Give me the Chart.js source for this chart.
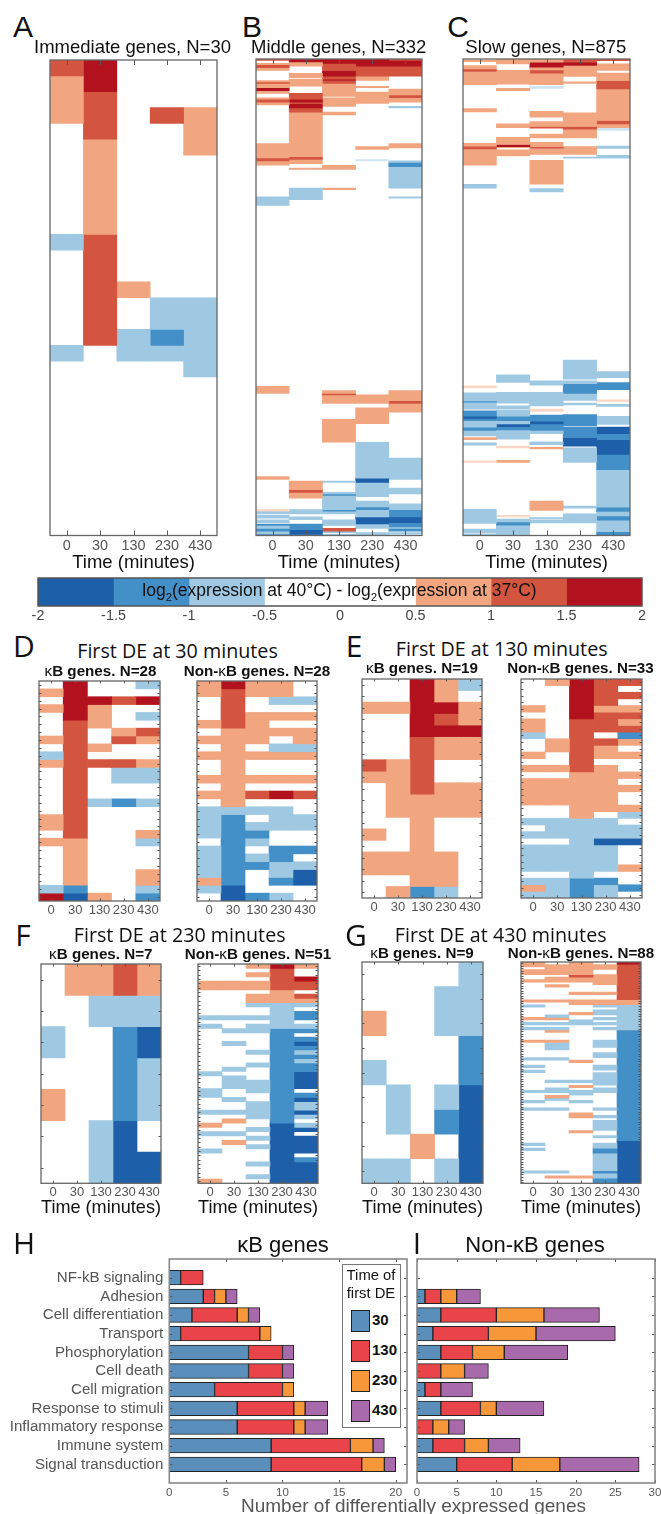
<!DOCTYPE html>
<html><head><meta charset="utf-8">
<script src="https://cdn.jsdelivr.net/npm/chart.js@4/dist/chart.umd.min.js"></script>
<style>
html,body{margin:0;padding:0;background:#fff;}
#page{position:relative;width:661px;height:1514px;overflow:hidden;font-family:"Liberation Sans",Arial,sans-serif;color:#111;}
canvas{position:absolute;}
.t{position:absolute;white-space:nowrap;transform:translate(-50%,-50%);line-height:1;z-index:5;}
.k{font-weight:400;}
sub{font-size:.65em;line-height:0;}
</style></head><body><div id="page"></div>
<script>
const timeLabels=["0","30","130","230","430"];
const heatColors={"-3":"#1d5fa8","-2":"#438fc7","-1":"#9fc9e3","-0.5":"#cfe4f1","0":"#ffffff","0.5":"#f9d7c4","1":"#f1a680","2":"#d4553f","3":"#b1121e"};
// Levels: -3..3 = expression-change bins (half levels = faint thin stripes). Row tables: one row per gene, five time points.
const panelA=[[2,3,0,0,0],[1,3,0,0,0],[1,2,0,0,0],[1,2,0,2,1],[0,2,0,0,1],[0,1,0,0,1],[0,1,0,0,0],[0,1,0,0,0],[0,1,0,0,0],[0,1,0,0,0],[0,1,0,0,0],[-1,2,0,0,0],[0,2,0,0,0],[0,2,0,0,0],[0,2,1,0,0],[0,2,0,-1,-1],[0,2,0,-1,-1],[0,2,-1,-2,-1],[-1,0,-1,-1,-1],[0,0,0,0,-1],[0,0,0,0,0],[0,0,0,0,0],[0,0,0,0,0],[0,0,0,0,0],[0,0,0,0,0],[0,0,0,0,0],[0,0,0,0,0],[0,0,0,0,0],[0,0,0,0,0],[0,0,0,0,0]];
const panelDk=[[0,3,0,0,-1],[1,3,0,0,0],[0,3,3,2,3],[1,3,1,0,0],[0,3,1,0,-1],[0,2,1,0,0],[0,2,0,1,2],[1,2,0,2,1],[0,2,1,0,0],[-1,2,0,0,0],[1,2,2,2,1],[0,2,0,-1,-1],[0,2,0,-1,-1],[0,2,0,0,0],[0,2,0,0,0],[0,2,-1,-2,-1],[0,2,0,0,0],[1,2,0,0,0],[1,2,0,0,0],[0,2,0,0,1],[1,1,0,0,-1],[0,1,0,0,0],[0,1,0,0,0],[0,1,0,0,0],[0,1,0,0,1],[0,1,0,0,1],[-1,-2,0,0,-1],[3,-3,1,0,-2]];
const panelDn=[[1,3,1,1,0],[1,2,1,1,0],[0,2,0,-1,-1],[0,2,0,0,0],[0,2,1,1,1],[1,2,1,0,0],[0,1,1,1,1],[1,1,1,0,1],[0,1,0,-1,-1],[1,1,1,1,1],[0,1,0,0,0],[0,1,0,0,0],[1,1,1,1,1],[0,1,0,0,0],[1,1,2,3,2],[0,1,0,0,0],[-1,-1,-1,-1,0],[-1,-2,0,-1,-1],[-1,-2,-1,-1,-1],[-1,-2,-2,0,0],[0,-2,-1,0,0],[-1,-2,0,-2,-2],[-1,-2,-1,-2,0],[-1,-2,-2,-1,-1],[-1,-2,0,-1,-3],[1,-2,0,-2,-3],[-1,-3,0,0,0],[0,-3,-2,-1,0]];
const panelEk=[[0,0,3,1,-1],[0,0,3,1,0],[1,1,3,3,1],[0,0,3,2,1],[0,0,3,3,3],[0,0,2,1,1],[0,0,2,1,1],[2,1,2,0,0],[1,1,2,0,0],[0,1,2,1,1],[0,1,1,1,1],[0,1,1,1,1],[0,0,1,0,0],[1,0,1,0,0],[0,0,1,0,0],[1,1,1,1,0],[1,1,1,1,0],[0,0,1,1,0],[0,1,-2,-1,0]];
const panelEn=[[0,1,3,2,2],[0,0,3,2,0],[0,0,3,2,2],[0,0,3,2,0],[1,0,3,1,1],[0,0,3,2,2],[1,0,2,2,1],[1,0,2,2,2],[-1,0,2,0,-2],[0,1,2,2,1],[0,1,2,1,0],[1,0,2,1,1],[0,0,2,0,0],[1,1,2,1,0],[0,0,1,1,1],[1,1,1,1,0],[1,1,1,1,1],[1,1,1,1,0],[1,1,1,1,0],[0,0,1,1,1],[0,0,1,0,-1],[-1,-1,-1,-1,0],[0,-1,-1,-1,-1],[-1,-1,-1,-1,-1],[0,0,-1,-3,-3],[-1,-1,-1,-1,0],[-1,-1,-1,-1,0],[-1,-1,-1,-1,0],[-1,-1,-1,-1,1],[0,0,-1,0,0],[-1,-1,-2,-2,0],[1,-1,-2,-1,-2],[-1,-1,-2,-1,0]];
const panelFk=[[0,1,1,2,1],[0,0,-1,-1,-1],[-1,0,0,-2,-3],[0,0,0,-2,-1],[1,0,0,-2,-1],[0,0,-1,-3,0],[0,0,-1,-3,-3]];
const panelGk=[[0,0,0,0,-1],[0,0,0,-1,-1],[1,0,0,-1,-1],[0,0,0,0,-2],[-1,0,0,0,-2],[0,-1,0,-1,-3],[0,-1,0,-2,-3],[0,0,1,0,-3],[-1,-1,0,-1,-3]];
// Run tables: per time point, [first gene, end gene, level].
const panelB=[
[[0,1,2],[3,4,1],[4,6,2],[6,8,1],[15,16,1],[16,17,2],[17,20,1],[20,22,3],[22,24,1],[27,28,1],[28,30,2],[30,32,1],[59,69,1],[69,71,2],[71,74,1],[96,102,-1],[228,233,1],[291,293,1],[314,315,0.5],[315,317,-1],[318,320,-1],[321,323,-1],[324,325,-2],[325,327,-1],[327,329,-2],[329,331,-1],[331,332,-3]],
[[0,2,3],[2,5,1],[10,13,1],[14,19,1],[24,28,2],[28,30,3],[30,31,2],[31,34,3],[34,37,2],[37,68,1],[68,70,2],[70,73,1],[76,77,1],[90,98,-1],[294,300,1],[300,302,2],[302,306,1],[314,317,-1],[319,321,-1],[324,328,-2],[328,331,-3],[331,332,-2]],
[[0,3,3],[3,8,2],[8,12,3],[12,14,2],[14,15,3],[15,17,2],[17,26,1],[27,33,1],[37,39,1],[74,77,1],[90,91,1],[231,233,1],[233,234,2],[234,240,1],[251,267,1],[294,295,-1],[302,303,-1],[303,304,-2],[304,314,-1],[314,315,-2],[315,317,-1],[321,325,-1],[327,329,2],[329,330,-1],[331,332,-1]],
[[0,5,3],[5,12,2],[12,15,1],[19,20,1],[23,31,1],[61,63,1],[70,71,-0.5],[234,240,1],[243,254,1],[267,292,-1],[292,295,-3],[295,305,-1],[308,312,-1],[312,314,-2],[314,319,-1],[319,324,-3],[324,327,-1],[330,332,-1]],
[[0,1,2],[1,5,3],[5,12,2],[21,25,1],[25,27,2],[27,30,1],[33,34,-1],[59,62,1],[71,72,-1],[72,75,-2],[75,90,-1],[96,97,-1],[231,238,1],[238,240,2],[240,246,1],[278,293,-1],[299,303,-1],[310,314,-1],[314,319,-2],[319,323,-3],[323,326,-2],[326,327,-1],[327,329,-2],[330,331,-1]]];
const panelC=[
[[2,5,1],[12,18,1],[18,23,2],[23,47,1],[91,97,1],[155,160,1],[160,165,2],[165,195,1],[230,237,-1],[600,604,0.5],[613,628,-1],[628,630,-2],[630,643,-1],[646,656,-2],[656,660,-3],[660,664,-2],[664,676,-1],[676,682,-2],[682,692,-1],[695,699,1],[705,709,-1],[738,741,0.5],[827,853,-1],[863,870,-1],[872,875,-1]],
[[0,9,1],[21,46,1],[54,58,1],[119,126,1],[144,157,1],[157,161,3],[161,163,1],[167,178,1],[580,594,-1],[612,632,-1],[637,643,-1],[645,656,-1],[656,664,-2],[664,670,-1],[671,675,-3],[675,681,-2],[681,698,-1],[711,714,0.5],[737,741,1],[838,841,0.5],[845,850,-1],[850,856,-2],[856,875,-1]],
[[0,6,1],[6,15,3],[15,20,1],[20,26,2],[26,47,1],[50,54,-0.5],[96,107,1],[115,124,1],[124,127,2],[138,145,1],[153,161,1],[161,164,2],[166,175,1],[186,230,1],[238,244,-1],[591,599,-1],[612,637,-1],[643,647,0.5],[654,665,-2],[665,670,-3],[670,682,-2],[682,688,-1],[703,708,-1],[713,716,1],[812,829,1],[842,845,-1],[847,852,-1]],
[[0,6,2],[6,12,3],[12,32,1],[42,45,1],[99,124,1],[124,129,2],[129,145,1],[161,175,1],[180,182,-1],[553,588,-1],[591,596,-1],[596,614,-2],[614,627,-1],[632,635,-1],[653,674,-2],[676,695,-2],[695,711,-3],[714,741,-1],[821,825,-1],[835,852,-1]],
[[0,3,2],[9,21,1],[26,40,1],[40,55,2],[55,113,1],[113,119,2],[119,126,1],[127,131,-0.5],[160,164,-1],[177,182,-1],[574,585,-1],[594,607,-2],[626,629,0.5],[634,638,-1],[656,671,-1],[676,688,-3],[688,699,-2],[699,726,-3],[726,754,-2],[754,823,-1],[823,831,-2],[831,839,-1],[839,847,-2],[847,868,-1],[868,875,-2]]];
const panelFn=[
[[4,6,1],[12,13,-1],[14,15,-1],[25,26,-1],[29,31,-1],[34,35,-1],[37,38,1],[39,40,-1],[43,44,-1],[50,51,1]],
[[4,6,1],[12,13,-1],[15,16,-1],[18,19,-1],[24,25,-1],[26,29,-1],[31,32,-1],[34,35,-1],[36,37,1],[39,40,-1],[41,42,1]],
[[0,1,1],[2,3,1],[4,6,1],[7,9,1],[9,10,-1],[12,13,-1],[14,16,-1],[20,21,-1],[23,24,-1],[27,30,-1],[32,36,-1],[38,39,-1],[40,41,-1],[42,43,-1],[46,47,-1],[49,50,-1]],
[[0,1,3],[1,6,2],[6,9,1],[9,15,-1],[15,37,-2],[37,51,-3]],
[[0,1,1],[3,4,3],[4,6,2],[7,8,2],[8,9,1],[9,10,-1],[11,13,-2],[14,15,-1],[15,16,-2],[17,18,-2],[18,19,-3],[19,20,-2],[20,21,-1],[21,22,-2],[22,23,-1],[23,25,-2],[25,29,-3],[30,31,-2],[31,32,-3],[32,34,-1],[34,35,-3],[35,36,-1],[37,38,-1],[38,39,-3],[40,44,-3],[45,46,-2],[46,51,-3]]];
const panelGn=[
[[0,2,1],[3,5,1],[7,8,1],[15,16,1],[17,18,-1],[22,23,1],[24,25,-1],[26,27,-1],[31,32,1],[38,39,-1],[41,42,-1],[43,44,-1],[51,52,-1],[55,56,-1],[58,59,-1],[72,73,-1],[74,75,-1],[83,84,-1]],
[[1,3,1],[3,5,1],[6,8,1],[9,10,1],[15,16,1],[21,22,-1],[22,23,1],[24,25,-1],[26,27,-1],[27,28,1],[31,32,1],[32,35,-1],[38,39,-1],[47,48,-1],[50,52,-1],[53,54,1],[54,55,-1],[58,59,-1],[83,84,-1],[85,86,1]],
[[0,5,1],[5,6,2],[6,8,1],[12,13,1],[15,17,1],[20,21,1],[23,25,-1],[39,40,1],[47,48,-1],[49,50,1],[51,53,-1],[55,56,-1],[60,62,1],[67,68,1],[85,86,1]],
[[1,3,1],[5,9,1],[12,13,1],[15,17,1],[17,18,-1],[19,21,-1],[22,23,-1],[24,25,-1],[26,27,-1],[31,34,-1],[36,38,-1],[41,43,-1],[44,49,-1],[50,52,-1],[58,59,-1],[61,62,-1],[63,67,-1],[69,70,-1],[72,74,-1],[74,76,-2],[76,83,-1],[83,84,-2],[84,86,-1],[86,88,-2]],
[[0,1,3],[1,15,2],[15,17,1],[17,27,-1],[27,71,-2],[71,88,-3]]];
const colorbarEdges=[-2,-1.5,-1,-0.5,0.5,1,1.5,2];
const colorbarLevels=[-3,-2,-1,0,1,2,3];
const categories=["NF-kB signaling","Adhesion","Cell differentiation","Transport","Phosphorylation","Cell death","Cell migration","Response to stimuli","Inflammatory response","Immune system","Signal transduction"];
const firstDE=["30","130","230","430"];
const deColors=["#5a8fbc","#e9444a","#f6973a","#a96aab"];
const kbCounts=[[1,3,2,1,7,7,4,6,6,9,9],[2,1,4,7,3,3,6,5,5,7,8],[0,1,1,1,0,0,1,1,1,2,2],[0,1,1,0,1,1,0,2,2,1,1]];
const nonKbCounts=[[0,1,3,2,3,0,1,3,0,2,5],[0,2,7,7,4,3,2,5,2,4,7],[0,2,6,6,4,3,0,2,2,3,6],[0,3,7,10,8,3,4,6,2,4,10]];

Chart.defaults.font.family='"Liberation Sans",Arial,sans-serif';
Chart.defaults.animation=false;
Chart.defaults.responsive=false;
Chart.defaults.plugins.legend.display=false;
Chart.defaults.plugins.tooltip.enabled=false;
Chart.defaults.events=[];
const page=document.getElementById('page');

function txt(html,x,y,size,opt){opt=opt||{};const d=document.createElement('div');d.className='t';d.innerHTML=html;
 d.style.cssText=`left:${x}px;top:${y}px;font-size:${size}px;font-family:${opt.font||'"Liberation Sans",Arial,sans-serif'};color:${opt.color||'#111'};font-weight:${opt.weight||400};`;page.appendChild(d);}
function canvasAt(x,y,w,h){const c=document.createElement('canvas');c.width=Math.round(w);c.height=Math.round(h);c.style.left=x+'px';c.style.top=y+'px';page.appendChild(c);return c;}
function rowsToRuns(rows){return timeLabels.map((_,c)=>{const out=[];rows.forEach((r,i)=>{const v=r[c];if(!v)return;const l=out[out.length-1];if(l&&l[1]===i&&l[2]===v)l[1]=i+1;else out.push([i,i+1,v]);});return out;});}
function noPad(s){s.paddingTop=0;s.paddingBottom=0;s.paddingLeft=0;s.paddingRight=0;}

function framePlugin(o){return {id:'frame',afterDraw(ch){const a=ch.chartArea,ctx=ch.ctx;ctx.save();ctx.strokeStyle=o.tickColor||'#555';ctx.lineWidth=1;
 const sx=ch.scales.x,sy=ch.scales.y;
 if(o.xVals){o.xVals.forEach(v=>{const p=Math.round(sx.getPixelForValue(v))+.5;ctx.beginPath();ctx.moveTo(p,a.top);ctx.lineTo(p,a.top+o.len);ctx.moveTo(p,a.bottom);ctx.lineTo(p,a.bottom-o.len);ctx.stroke();});}
 if(o.yVals){o.yVals.forEach(v=>{const p=Math.round(sy.getPixelForValue(v))+.5;ctx.beginPath();ctx.moveTo(a.left,p);ctx.lineTo(a.left+o.len,p);ctx.moveTo(a.right,p);ctx.lineTo(a.right-o.len,p);ctx.stroke();});}
 ctx.strokeStyle=o.frameColor||'#666';ctx.lineWidth=o.frameWidth||1.3;ctx.strokeRect(a.left,a.top,a.right-a.left,a.bottom-a.top);ctx.restore();}};}

function heat(box,N,runs,o){const m=4,bottom=o.bottom;
 const [x0,y0,x1,y1]=box;
 const c=canvasAt(x0-m,y0-m,x1-x0+2*m,y1-y0+m+bottom);
 const datasets=[];runs.forEach((col,ci)=>col.forEach(r=>{const d=timeLabels.map(()=>null);d[ci]=[r[0],r[1]];datasets.push({data:d,backgroundColor:heatColors[r[2]],borderWidth:0,grouped:false,barPercentage:1,categoryPercentage:1});}));
 const rows=o.rowTicks?Array.from({length:N},(_,i)=>i+.5):null;
 new Chart(c,{type:'bar',data:{labels:timeLabels,datasets},
  options:{layout:{padding:{left:m,right:m,top:m,bottom:0}},
   scales:{x:{type:'category',offset:true,grid:{display:false,drawTicks:false},border:{display:false},
     ticks:{color:'#555',font:{size:o.tickSize},padding:o.tickPad,maxRotation:0,autoSkip:false},
     title:o.xTitle?{display:true,text:'Time (minutes)',color:'#111',font:{size:18.5},padding:{top:0,bottom:0}}:{display:false},
     afterFit:s=>{s.height=bottom;noPad(s);}},
    y:{type:'linear',display:false,reverse:true,min:0,max:N}}},
  plugins:[framePlugin({xVals:[0,1,2,3,4],yVals:rows,len:o.len||2.5})]});
}

// Panels A-C
txt('A',23,27,30);txt('B',252,27,30);txt('C',458,27,30);
txt('Immediate genes, N=30',132.5,47,18.5);txt('Middle genes, N=332',338.7,47,18.5);txt('Slow genes, N=875',545.8,47,18.5);
const top3={bottom:38.5,tickSize:14.4,tickPad:2,xTitle:true,len:5};
heat([49.5,60,216.5,535.5],30,rowsToRuns(panelA),top3);
heat([256.3,58.5,422.3,534.5],332,panelB,top3);
heat([463,58.5,629.7,534.5],875,panelC,top3);

// Colour bar
(function(){const m=14,x0=38.3,x1=642,y0=578.3,y1=606,bottom=18;
 const c=canvasAt(x0-m,y0-4,x1-x0+2*m,y1-y0+4+bottom);
 const datasets=colorbarLevels.map((l,i)=>({data:[[colorbarEdges[i],colorbarEdges[i+1]]],backgroundColor:heatColors[l],borderWidth:0,grouped:false,barPercentage:1,categoryPercentage:1}));
 new Chart(c,{type:'bar',data:{labels:['level'],datasets},options:{indexAxis:'y',layout:{padding:{left:m,right:m,top:4,bottom:0}},
  scales:{x:{type:'linear',min:-2,max:2,grid:{display:false,drawTicks:false},border:{display:false},ticks:{stepSize:.5,color:'#444',font:{size:14.4},padding:1.5,maxRotation:0,autoSkip:false,callback:v=>String(v)},afterFit:s=>{s.height=bottom;noPad(s);}},
   y:{type:'category',display:false}}},plugins:[framePlugin({len:0,frameColor:'#555',frameWidth:1.5})]});
 txt('log<sub>2</sub>(expression at 40°C) - log<sub>2</sub>(expression at 37°C)',339.5,591,17.5);
})();

// Panels D-G
const myriad='"Open Sans",sans-serif';
const sm={bottom:18,tickSize:13,tickPad:1.5,rowTicks:true};
const lg={bottom:35.7,tickSize:13,tickPad:1.5,rowTicks:true,xTitle:true};
txt('D',24,646,30,{font:myriad});txt('E',354,646,30,{font:myriad});txt('F',23,935,30,{font:myriad});txt('G',356,935,30,{font:myriad});
txt('First DE at 30 minutes',177.5,651,19.7,{font:myriad});txt('First DE at 130 minutes',501.7,649,19.7,{font:myriad});
txt('First DE at 230 minutes',179.7,935,19.7,{font:myriad});txt('First DE at 430 minutes',500.7,935,19.7,{font:myriad});
const sub=(n,x,y)=>txt(n,x,y,15.2,{weight:700});
sub('<span class="k">κ</span>B genes. N=28',100.5,670.7);sub('Non-<span class="k">κ</span>B genes. N=28',257,670.7);
sub('<span class="k">κ</span>B genes. N=19',422,667.7);sub('Non-<span class="k">κ</span>B genes. N=33',580.5,667.7);
sub('<span class="k">κ</span>B genes. N=7',100.8,954);sub('Non-<span class="k">κ</span>B genes. N=51',258,954);
sub('<span class="k">κ</span>B genes. N=9',422,953);sub('Non-<span class="k">κ</span>B genes. N=88',581,953);
heat([38.5,680.7,159.3,900.7],28,rowsToRuns(panelDk),sm);
heat([197.3,680.7,317.3,900.7],28,rowsToRuns(panelDn),sm);
heat([362.3,679,482.7,898.3],19,rowsToRuns(panelEk),sm);
heat([520.7,679,641.3,898.3],33,rowsToRuns(panelEn),sm);
heat([40.7,964.3,160.7,1183.3],7,rowsToRuns(panelFk),lg);
heat([198.3,964.3,318.3,1183.3],51,panelFn,lg);
heat([361.7,962.3,482.7,1183.3],9,rowsToRuns(panelGk),lg);
heat([520.7,962.3,641,1183.3],88,panelGn,lg);

// Panels H, I
function bars(box,counts,xMax,leftSpace,showLabels){const m=4,bottom=16;const [x0,y0,x1,y1]=box;
 const c=canvasAt(x0-leftSpace,y0-m,x1-x0+leftSpace+m+6,y1-y0+m+bottom);
 const labels=['',...categories,''];
 const datasets=counts.map((vals,i)=>({label:firstDE[i],data:[null,...vals,null],backgroundColor:deColors[i],borderColor:'#222',borderWidth:1,borderSkipped:false,barThickness:14.7,stack:'s'}));
 new Chart(c,{type:'bar',data:{labels,datasets},options:{indexAxis:'y',layout:{padding:{left:showLabels?0:leftSpace,right:m+6,top:m,bottom:0}},
  scales:{x:{type:'linear',stacked:true,min:0,max:xMax,grid:{display:false,drawTicks:false},border:{display:false},
     ticks:{stepSize:5,includeBounds:false,color:'#555',font:{size:11.5},padding:2.5,maxRotation:0,autoSkip:false},afterFit:s=>{s.height=bottom;noPad(s);}},
   y:{type:'category',stacked:true,offset:false,grid:{display:false,drawTicks:false,offset:false},border:{display:false},ticks:{display:showLabels,autoSkip:false,color:'#555',font:{size:15.1},padding:6},afterFit:s=>{s.width=showLabels?leftSpace:0;noPad(s);}}}},
  plugins:[framePlugin({xVals:Array.from({length:Math.floor(xMax/5)+1},(_,i)=>i*5),yVals:categories.map(n=>n),len:3,tickColor:'#555',frameColor:'#888',frameWidth:1.6})]});
}
txt('H',24,1243,30,{font:myriad});txt('I',417,1243,30,{font:myriad});
txt('κB genes',283,1245,22);txt('Non-κB genes',535,1245,22);
bars([169.3,1258.7,406.7,1482.7],kbCounts,21,169.3,true);
bars([417.3,1258.7,655.3,1482.7],nonKbCounts,30,6,false);
txt('Number of differentially expressed genes',413.5,1505,19,{color:'#555'});

// Legend
(function(){const L=document.createElement('div');L.style.cssText='position:absolute;left:341.7px;top:1264.3px;width:57px;height:161.5px;background:#fff;border:1.5px solid #777;z-index:4;';page.appendChild(L);
 txt('Time of',371,1275,14.8);txt('first DE',371,1293,14.8);
 const ys=[1320,1350,1380,1410];
 firstDE.forEach((l,i)=>{const s=document.createElement('div');s.style.cssText=`position:absolute;left:351px;top:${ys[i]-10.5}px;width:17px;height:20px;background:${deColors[i]};border:1px solid #222;z-index:5;`;page.appendChild(s);
  const t=document.createElement('div');t.style.cssText=`position:absolute;left:372px;top:${ys[i]-8}px;font-size:15px;font-weight:700;line-height:16px;z-index:5;color:#111;`;t.textContent=l;page.appendChild(t);});
})();
</script></body></html>
